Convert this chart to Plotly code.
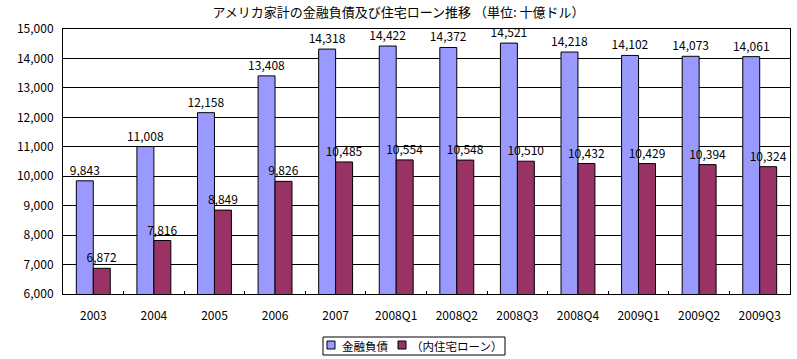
import plotly.graph_objects as go

categories = ["2003", "2004", "2005", "2006", "2007", "2008Q1", "2008Q2",
              "2008Q3", "2008Q4", "2009Q1", "2009Q2", "2009Q3"]
debt = [9843, 11008, 12158, 13408, 14318, 14422, 14372, 14521, 14218, 14102, 14073, 14061]
mortgage = [6872, 7816, 8849, 9826, 10485, 10554, 10548, 10510, 10432, 10429, 10394, 10324]
y_ticks = [6000, 7000, 8000, 9000, 10000, 11000, 12000, 13000, 14000, 15000]
series_names = ["金融負債", "（内住宅ローン）"]
series_colors = ["#9999FF", "#993366"]

FONT = "Noto Sans CJK JP"
W, H = 797, 359
L, R, T, B = 63, 7, 29, 65
PW, PH = W - L - R, H - T - B


def px_x(x):
    return (x - L) / PW


def px_y(y):
    return (H - B - y) / PH


fig = go.Figure()
for vals, name, col in zip([debt, mortgage], series_names, series_colors):
    fig.add_bar(x=categories, y=vals, name=name,
                marker=dict(color=col, line=dict(color="black", width=1)),
                text=[f"{v:,}" for v in vals], textposition="outside",
                constraintext="none",
                textfont=dict(color="black", size=12, family=FONT), cliponaxis=False)

fig.update_layout(
    width=W, height=H,
    margin=dict(l=L, r=R, t=T, b=B),
    paper_bgcolor="white", plot_bgcolor="white",
    font=dict(family=FONT, size=12, color="black"),
    title=dict(text="アメリカ家計の金融負債及び住宅ローン推移 （単位: 十億ドル）",
               x=0.5, xanchor="center", y=1 - 12 / H, yanchor="middle",
               font=dict(size=13, family=FONT)),
    barmode="group", bargap=0.44, bargroupgap=0,
    showlegend=False,
)

# manual legend box
shapes = [dict(type="rect", xref="paper", yref="paper",
               x0=px_x(323), x1=px_x(505), y0=px_y(355), y1=px_y(337),
               line=dict(color="black", width=1), fillcolor="white")]
legend_items = [(327, 340), (398, 409)]
annotations = []
for (sx, tx), name, col in zip(legend_items, series_names, series_colors):
    shapes.append(dict(type="rect", xref="paper", yref="paper",
                       x0=px_x(sx), x1=px_x(sx + 8), y0=px_y(349), y1=px_y(341),
                       line=dict(color="black", width=1), fillcolor=col))
    annotations.append(dict(xref="paper", yref="paper", x=px_x(tx), y=px_y(346),
                            xanchor="left", yanchor="middle", showarrow=False,
                            text=name, font=dict(size=11.5, family=FONT)))
fig.update_layout(shapes=shapes, annotations=annotations)

fig.update_xaxes(showline=True, linecolor="black", linewidth=1, mirror=True,
                 ticks="inside", tickson="boundaries", ticklen=3, tickcolor="black",
                 ticklabelstandoff=11, tickfont=dict(size=12))
fig.update_yaxes(range=[6000, 15000], tickvals=y_ticks, tickformat=",",
                 showgrid=True, gridcolor="black", gridwidth=1,
                 showline=True, linecolor="black", linewidth=1, mirror=True,
                 ticks="", ticklabelstandoff=6, tickfont=dict(size=12))

fig.write_html("out.html", config={"displayModeBar": False},
               post_script="document.body.style.margin='0';")
